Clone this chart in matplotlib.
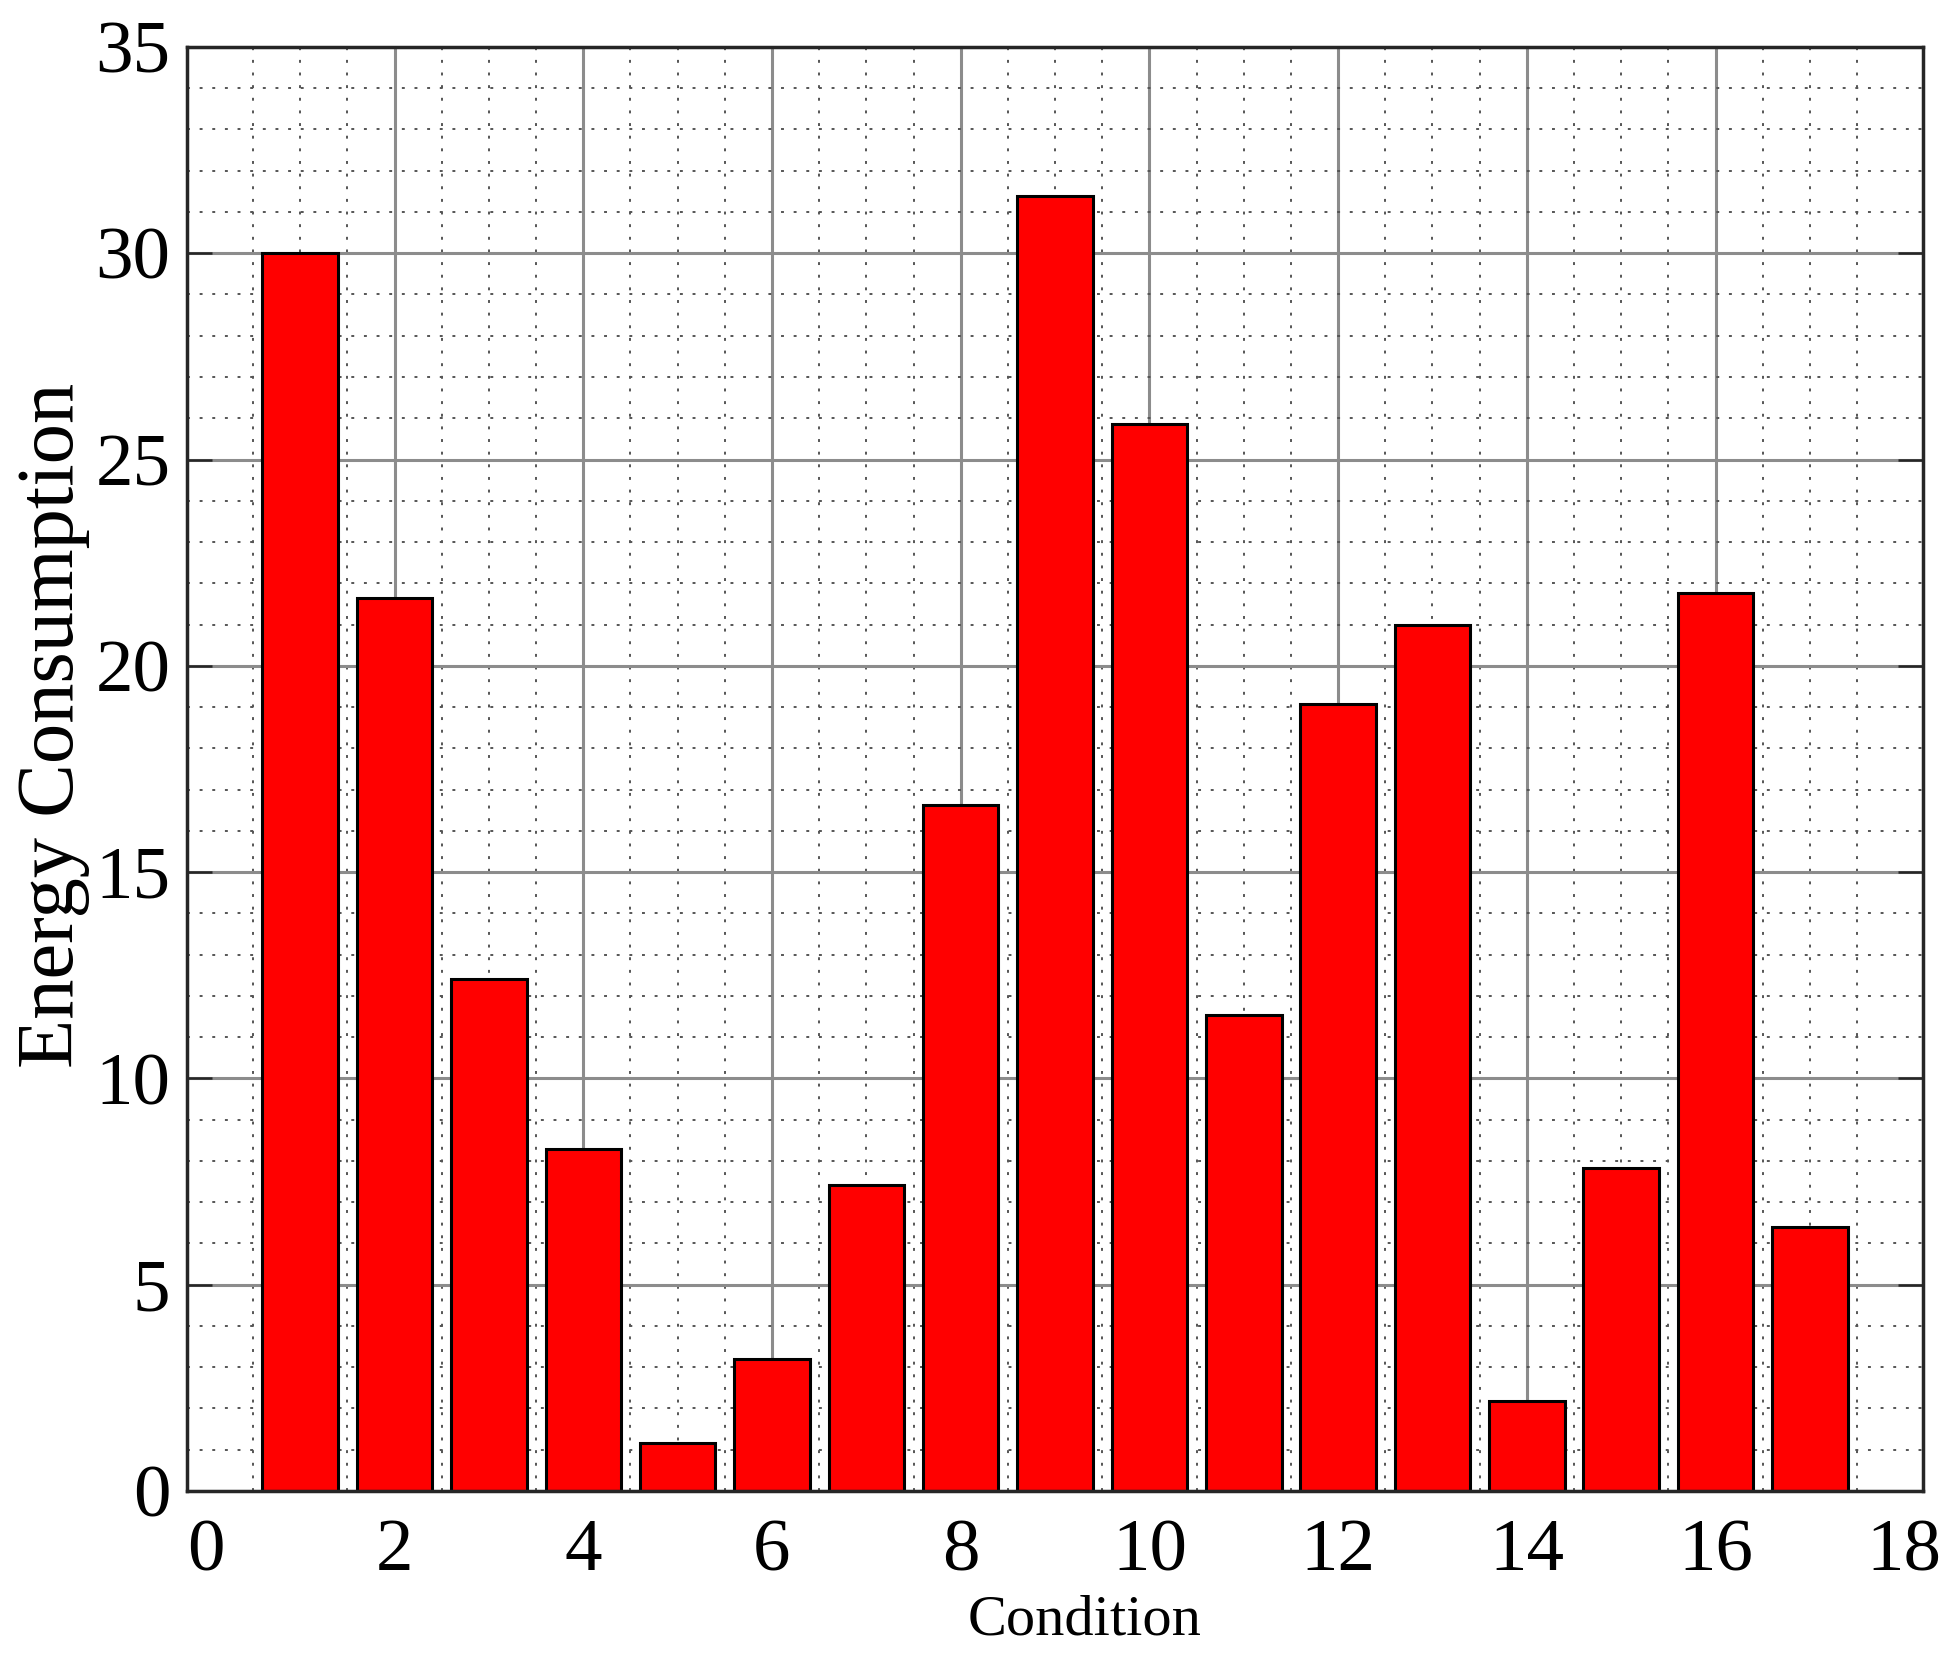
import numpy as np
import matplotlib
matplotlib.use("Agg")
import matplotlib.pyplot as plt
from matplotlib.ticker import MultipleLocator, FixedLocator, NullFormatter

plt.rcParams['font.family'] = ['Liberation Serif', 'DejaVu Serif']

conditions = np.arange(1, 18)
energy = [30.0, 21.64, 12.40, 8.30, 1.15, 3.20, 7.42, 16.63, 31.38,
          25.86, 11.53, 19.07, 21.0, 2.17, 7.82, 21.76, 6.40]

xticks = np.arange(0, 19, 2)
yticks = np.arange(0, 36, 5)

pos = [0.0958, 0.104, 0.8894, 0.8678]
fig = plt.figure(figsize=(19.52, 16.64), dpi=100)
ax = fig.add_axes(pos)

ax.bar(conditions, energy, width=0.8, color='#ff0000', edgecolor='black',
       linewidth=2.2, zorder=2)

ax.set_xlim(-0.2, 18.2)
ax.set_ylim(0, 35)

# grid: majors only inside the plot, minors every 0.5 / 1
ax.xaxis.set_major_locator(FixedLocator(xticks[1:-1]))
ax.xaxis.set_minor_locator(FixedLocator([v for v in np.arange(0.5, 18, 0.5) if v % 2]))
ax.yaxis.set_major_locator(MultipleLocator(5))
ax.yaxis.set_minor_locator(MultipleLocator(1))
ax.xaxis.set_major_formatter(NullFormatter())
ax.yaxis.set_major_formatter(NullFormatter())
ax.set_axisbelow(True)
ax.grid(which='major', color='#8c8c8c', linewidth=2.2, linestyle='-')
ax.grid(which='minor', color='#555555', linewidth=1.4, linestyle=(0, (1.5, 5)))
ax.tick_params(which='both', length=0)
for s in ax.spines.values():
    s.set_visible(False)

# overlay for ticks, labels and frame drawn on top of the bars
ov = fig.add_axes(pos, facecolor='none')
ov.set_xlim(ax.get_xlim())
ov.set_ylim(ax.get_ylim())
ov.set_xticks(xticks)
ov.set_xticks(xticks[1:-1], minor=True)
ov.set_yticks(yticks)
ov.tick_params(which='major', axis='x', length=0, labelsize=54, pad=20)
ov.tick_params(which='minor', axis='x', direction='in', length=18, width=1.8,
               top=True, bottom=True, color='#262626')
ov.tick_params(which='major', axis='y', direction='in', length=18, width=1.8,
               left=True, right=True, color='#262626', labelsize=54, pad=12)
for s in ov.spines.values():
    s.set_linewidth(2.5)
    s.set_color('#262626')

ov.set_xlabel('Condition', fontsize=42)
ov.xaxis.set_label_coords(0.517, -0.072)
ov.set_ylabel('Energy Consumption', fontsize=58)
ov.yaxis.set_label_coords(-0.056, 0.53)

fig.savefig('out.png', dpi=100)
